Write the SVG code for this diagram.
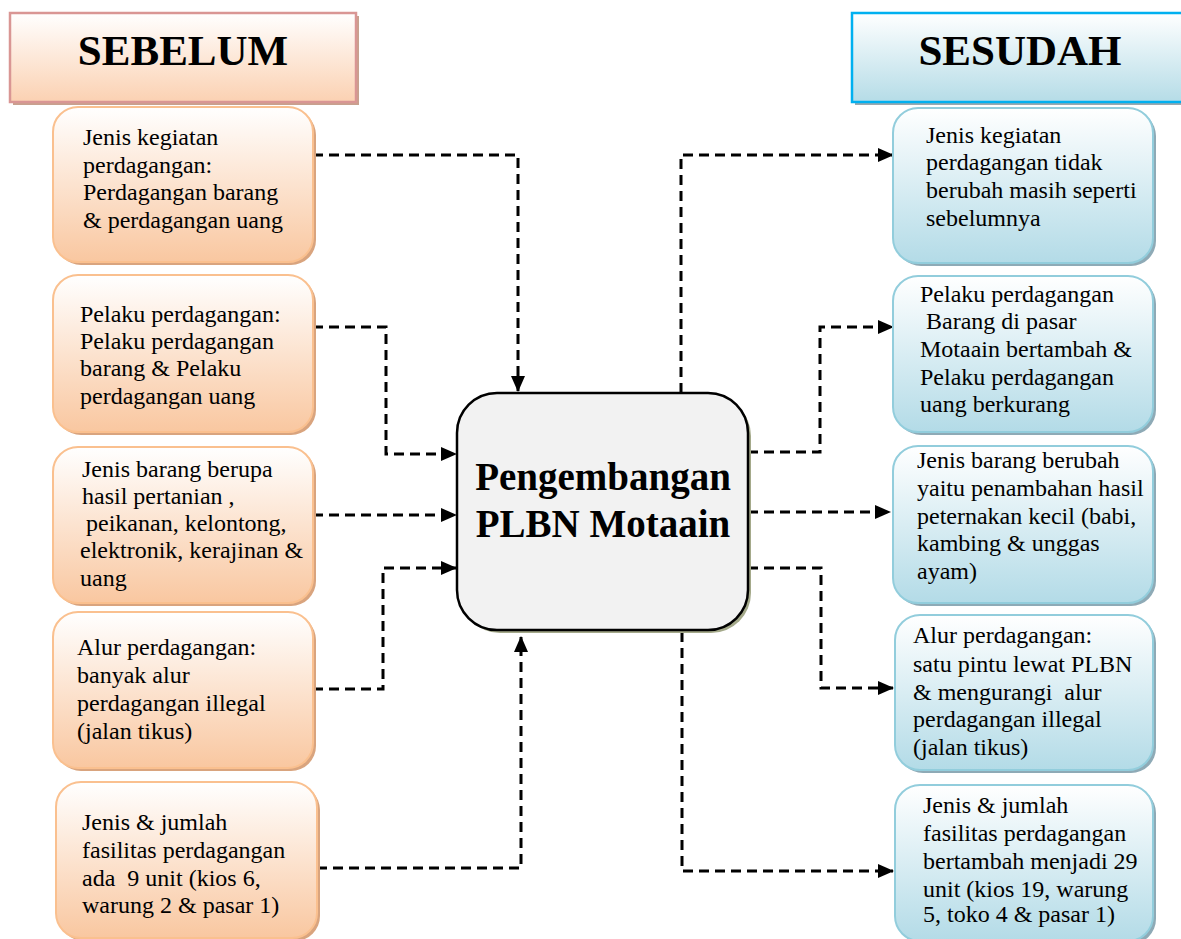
<svg xmlns="http://www.w3.org/2000/svg" width="1181" height="939" viewBox="0 0 1181 939">
<defs>
<linearGradient id="gOr" x1="0" y1="0" x2="0" y2="1">
<stop offset="0" stop-color="#FFFFFF"/><stop offset="1" stop-color="#F9C7A0"/>
</linearGradient>
<linearGradient id="gBl" x1="0" y1="0" x2="0" y2="1">
<stop offset="0" stop-color="#FFFFFF"/><stop offset="1" stop-color="#B3DBE7"/>
</linearGradient>
<linearGradient id="gHOr" x1="0" y1="0" x2="0" y2="1">
<stop offset="0" stop-color="#FFFFFF"/><stop offset="1" stop-color="#FBD1B2"/>
</linearGradient>
<linearGradient id="gHBl" x1="0" y1="0" x2="0" y2="1">
<stop offset="0" stop-color="#FFFFFF"/><stop offset="1" stop-color="#B5DCE7"/>
</linearGradient>
<marker id="arr" viewBox="0 0 16 14" refX="15" refY="7" markerWidth="16" markerHeight="14" markerUnits="userSpaceOnUse" orient="auto">
<path d="M0,0 L16,7 L0,14 Z" fill="#000"/>
</marker>
</defs>
<style>
.t{font-family:"Liberation Serif","Times New Roman",serif;font-size:24px;fill:#000;white-space:pre}
.h{font-family:"Liberation Serif","Times New Roman",serif;font-size:43px;font-weight:bold;fill:#000}
.c{font-family:"Liberation Serif","Times New Roman",serif;font-size:39px;font-weight:bold;fill:#000}
.or{fill:url(#gOr);stroke:#FAC08F;stroke-width:2}
.bl{fill:url(#gBl);stroke:#92CDDC;stroke-width:2}
.sor{fill:#D9A47E}
.sbl{fill:#8EAAB6}
.con{fill:none;stroke:#000;stroke-width:3;stroke-dasharray:10 6}
</style>
<rect width="1181" height="939" fill="#FFFFFF"/>

<g id="hdr-sebelum">
<rect x="13" y="16" width="346" height="89" fill="#C8A08E"/>
<rect x="10" y="13" width="346" height="89" fill="url(#gHOr)" stroke="#D99694" stroke-width="2.5"/>
<text class="h" x="183" y="65" text-anchor="middle">SEBELUM</text>
</g>
<g id="hdr-sesudah">
<rect x="855" y="16" width="340" height="89" fill="#9AA8AE"/>
<rect x="852" y="13" width="340" height="89" fill="url(#gHBl)" stroke="#00B0F0" stroke-width="2.5"/>
<text class="h" x="1020" y="65" text-anchor="middle">SESUDAH</text>
</g>

<g id="connectors">
<path class="con" d="M313,155 H518 V391" marker-end="url(#arr)"/>
<path class="con" d="M313,327 H386 V454 H456" marker-end="url(#arr)"/>
<path class="con" d="M313,515 H456" marker-end="url(#arr)"/>
<path class="con" d="M313,689 H383 V568 H456" marker-end="url(#arr)"/>
<path class="con" d="M317,868 H521 V637" marker-end="url(#arr)"/>
<path class="con" d="M681,393 V155 H893" marker-end="url(#arr)"/>
<path class="con" d="M748,452 H820 V327 H893" marker-end="url(#arr)"/>
<path class="con" d="M748,512 H890" marker-end="url(#arr)"/>
<path class="con" d="M748,568 H821 V688 H893" marker-end="url(#arr)"/>
<path class="con" d="M682,632 V871 H893" marker-end="url(#arr)"/>
</g>

<g id="center">
<rect x="460" y="396" width="291" height="237" rx="40" fill="#A4A98A"/>
<rect x="457" y="393" width="291" height="237" rx="40" fill="#F2F2F2" stroke="#000" stroke-width="2.5"/>
<text class="c" x="603" y="490" text-anchor="middle">Pengembangan</text>
<text class="c" x="603" y="537" text-anchor="middle">PLBN Motaain</text>
</g>

<g id="l1">
<rect class="sor" x="56" y="110" width="260" height="155" rx="25"/>
<rect class="or" x="53" y="107" width="260" height="155" rx="25"/>
<text class="t"><tspan x="83" y="145">Jenis kegiatan</tspan><tspan x="83" y="173">perdagangan:</tspan><tspan x="83" y="200">Perdagangan barang</tspan><tspan x="83" y="228">&amp; perdagangan uang</tspan></text>
</g>
<g id="l2">
<rect class="sor" x="56" y="278" width="260" height="157" rx="25"/>
<rect class="or" x="53" y="275" width="260" height="157" rx="25"/>
<text class="t"><tspan x="80" y="322">Pelaku perdagangan:</tspan><tspan x="80" y="349">Pelaku perdagangan</tspan><tspan x="80" y="376">barang &amp; Pelaku</tspan><tspan x="80" y="404">perdagangan uang</tspan></text>
</g>
<g id="l3">
<rect class="sor" x="56" y="450" width="260" height="156" rx="25"/>
<rect class="or" x="53" y="447" width="260" height="156" rx="25"/>
<text class="t"><tspan x="82" y="477">Jenis barang berupa</tspan><tspan x="82" y="504">hasil pertanian ,</tspan><tspan x="80" y="531"> peikanan, kelontong,</tspan><tspan x="80" y="558">elektronik, kerajinan &amp;</tspan><tspan x="80" y="586">uang</tspan></text>
</g>
<g id="l4">
<rect class="sor" x="56" y="615" width="260" height="156" rx="25"/>
<rect class="or" x="53" y="612" width="260" height="156" rx="25"/>
<text class="t"><tspan x="77" y="655">Alur perdagangan:</tspan><tspan x="77" y="683">banyak alur</tspan><tspan x="77" y="711">perdagangan illegal</tspan><tspan x="77" y="739">(jalan tikus)</tspan></text>
</g>
<g id="l5">
<rect class="sor" x="59" y="785" width="261" height="156" rx="25"/>
<rect class="or" x="56" y="782" width="261" height="156" rx="25"/>
<text class="t"><tspan x="82" y="830">Jenis &amp; jumlah</tspan><tspan x="82" y="858">fasilitas perdagangan</tspan><tspan x="82" y="886">ada  9 unit (kios 6,</tspan><tspan x="82" y="913">warung 2 &amp; pasar 1)</tspan></text>
</g>

<g id="r1">
<rect class="sbl" x="896" y="111" width="260" height="155" rx="25"/>
<rect class="bl" x="893" y="108" width="260" height="155" rx="25"/>
<text class="t"><tspan x="926" y="143">Jenis kegiatan</tspan><tspan x="926" y="170">perdagangan tidak</tspan><tspan x="926" y="198">berubah masih seperti</tspan><tspan x="926" y="226">sebelumnya</tspan></text>
</g>
<g id="r2">
<rect class="sbl" x="896" y="279" width="260" height="156" rx="25"/>
<rect class="bl" x="893" y="276" width="260" height="156" rx="25"/>
<text class="t"><tspan x="920" y="302">Pelaku perdagangan</tspan><tspan x="920" y="329"> Barang di pasar</tspan><tspan x="920" y="357">Motaain bertambah &amp;</tspan><tspan x="920" y="385">Pelaku perdagangan</tspan><tspan x="920" y="412">uang berkurang</tspan></text>
</g>
<g id="r3">
<rect class="sbl" x="896" y="449" width="260" height="157" rx="25"/>
<rect class="bl" x="893" y="446" width="260" height="157" rx="25"/>
<text class="t"><tspan x="917" y="468">Jenis barang berubah</tspan><tspan x="917" y="496">yaitu penambahan hasil</tspan><tspan x="917" y="524">peternakan kecil (babi,</tspan><tspan x="917" y="551">kambing &amp; unggas</tspan><tspan x="917" y="579">ayam)</tspan></text>
</g>
<g id="r4">
<rect class="sbl" x="898" y="618" width="258" height="155" rx="25"/>
<rect class="bl" x="895" y="615" width="258" height="155" rx="25"/>
<text class="t"><tspan x="913" y="643">Alur perdagangan:</tspan><tspan x="913" y="672">satu pintu lewat PLBN</tspan><tspan x="913" y="700">&amp; mengurangi  alur</tspan><tspan x="913" y="727">perdagangan illegal</tspan><tspan x="913" y="755">(jalan tikus)</tspan></text>
</g>
<g id="r5">
<rect class="sbl" x="898" y="788" width="258" height="156" rx="25"/>
<rect class="bl" x="895" y="785" width="258" height="156" rx="25"/>
<text class="t"><tspan x="923" y="813">Jenis &amp; jumlah</tspan><tspan x="923" y="841">fasilitas perdagangan</tspan><tspan x="923" y="869">bertambah menjadi 29</tspan><tspan x="923" y="897">unit (kios 19, warung</tspan><tspan x="923" y="922">5, toko 4 &amp; pasar 1)</tspan></text>
</g>
</svg>
